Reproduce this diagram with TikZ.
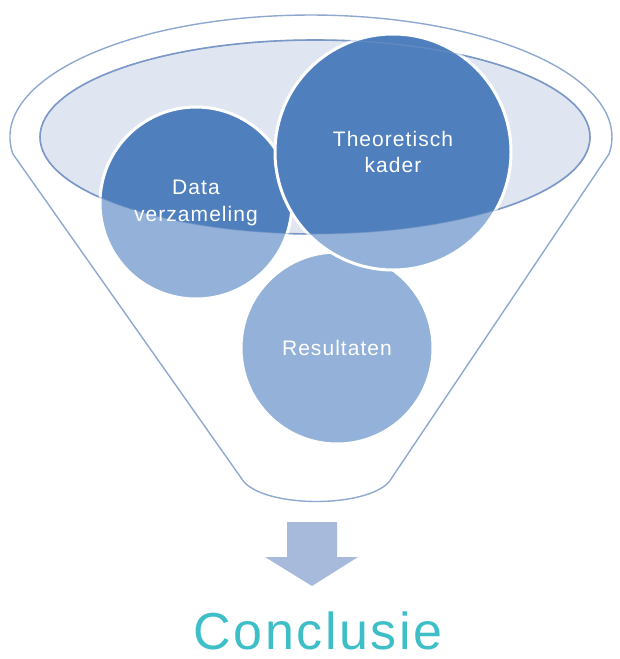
\documentclass[tikz,border=0pt]{standalone}
\usepackage{fontspec}
\setmainfont{Liberation Sans}
\newfontfamily\spaced[LetterSpace=5]{Liberation Sans}
\definecolor{darkblue}{HTML}{4F80BD}
\definecolor{lightblue}{HTML}{94B2D9}
\definecolor{rimfill}{HTML}{E0E6F1}
\definecolor{rimline}{HTML}{7B98C8}
\definecolor{funnelline}{HTML}{8FA8D0}
\definecolor{arrowblue}{HTML}{A7BADC}
\definecolor{teal}{HTML}{3EBFC8}
\tikzset{
  bubbletext/.style={circle, inner sep=0pt, text=white, align=center,
    font=\spaced\fontsize{21}{26.4}\selectfont},
  ring/.style={draw=white, line width=3pt},
}
\newcommand{\darkzone}{(0,0) -- (619,0) -- (619,-137) -- (590,-137)
      arc[start angle=0, end angle=-180, x radius=275, y radius=97] -- (0,-137) -- cycle}
\newcommand{\bubbleshape}[2]{%
  \fill[lightblue] (#1) circle[radius=#2];
  \begin{scope}\clip \darkzone; \fill[darkblue] (#1) circle[radius=#2];\end{scope}
  \draw[ring] (#1) circle[radius=#2];}
\begin{document}
\begin{tikzpicture}[x=1pt,y=1pt]
\useasboundingbox (0,0) rectangle (619,-659);
% funnel outline
\draw[funnelline, line width=1.4pt, line join=round]
  (244,-482) -- (12.9,-154)
  arc[start angle=188, end angle=-8, x radius=301, y radius=122]
  -- (389,-482) .. controls (365,-508) and (268,-508) .. cycle;
% inner rim
\fill[rimfill] (315,-137) ellipse[x radius=275, y radius=97];
\draw[rimline, line width=1.6pt] (315,-137) ellipse[x radius=275, y radius=97];
% circles
\bubbleshape{337,-348}{96}
\bubbleshape{196,-203}{96}
\bubbleshape{393,-152}{118}
% rim line over circles
\draw[rimline, line width=1.2pt, opacity=0.45] (315,-137) ellipse[x radius=275, y radius=97];
% labels
\node[bubbletext, minimum size=192pt] (res) at (337,-348) {Resultaten};
\node[bubbletext, minimum size=192pt] (data) at (196,-203) {Data\\verzameling};
\node[bubbletext, minimum size=236pt] (theo) at (393,-152) {Theoretisch\\kader};
% arrow
\fill[arrowblue] (287,-522) -- (337,-522) -- (337,-557) -- (358,-557) -- (312,-586)
  -- (265,-557) -- (287,-557) -- cycle;
\node[anchor=base, text=teal, font=\spaced\fontsize{52}{56}\selectfont, inner sep=0pt] (concl) at (318,-649) {Conclusie};
\end{tikzpicture}
\end{document}
